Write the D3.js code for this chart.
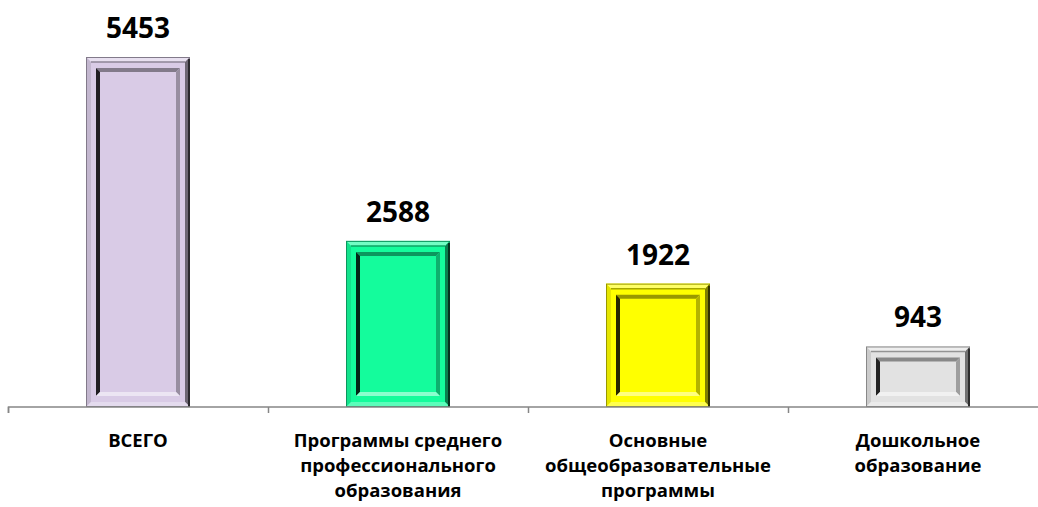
<!DOCTYPE html>
<html><head><meta charset="utf-8">
<script src="https://cdn.jsdelivr.net/npm/d3@7"></script>
<style>body{margin:0;background:#fff}svg{display:block}</style>
</head><body>
<svg id="c" width="1038" height="507"></svg>
<script>
const categories = [["ВСЕГО"], ["Программы среднего","профессионального","образования"], ["Основные","общеобразовательные","программы"], ["Дошкольное","образование"]];
const values = [5453, 2588, 1922, 943];
const colors = ["#d9cbe6", "#14fc9c", "#ffff00", "#e2e2e2"];

const svg = d3.select("#c");
const axisY = 407;
const x = d3.scaleBand().domain(d3.range(values.length)).range([8, 1048]).paddingInner(0.6).paddingOuter(0.3);
const y = d3.scaleLinear().domain([0, 5453]).range([axisY, 57]);
const band = d3.scaleBand().domain(d3.range(values.length)).range([8, 1048]);

function mix(c, t, k){ return d3.interpolateRgb(c, t)(k); }

values.forEach((v, i) => {
  const x0 = x(i), x1 = x(i) + x.bandwidth(), y0 = y(v), y1 = axisY;
  const col = colors[i];
  const g = svg.append("g");
  g.append("rect").attr("x", x0).attr("y", y0).attr("width", x1 - x0).attr("height", y1 - y0).attr("fill", col);
  const b = 5;
  const poly = (pts, fill) => g.append("polygon").attr("points", pts.map(p => p.join(",")).join(" ")).attr("fill", fill);
  // outer bevel
  poly([[x0,y0],[x1,y0],[x1-b,y0+b],[x0+b,y0+b]], mix(col, "#fff", 0.4));
  poly([[x0,y0],[x0+b,y0+b],[x0+b,y1-b],[x0,y1]], mix(col, "#000", 0.1));
  poly([[x1,y0],[x1,y1],[x1-b,y1-b],[x1-b,y0+b]], mix(col, "#000", 0.5));
  poly([[x0,y1],[x0+b,y1-b],[x1-b,y1-b],[x1,y1]], mix(col, "#fff", 0.3));
  g.append("line").attr("x1", x0+b).attr("x2", x1-b).attr("y1", y0+b).attr("y2", y0+b).attr("stroke", mix(col, "#000", 0.35)).attr("stroke-width", 1.5);
  g.append("rect").attr("x", x0+0.5).attr("y", y0+0.5).attr("width", x1-x0-1).attr("height", y1-y0-1).attr("fill", "none").attr("stroke", mix(col, "#000", 0.4)).attr("stroke-width", 1);
  g.append("line").attr("x1", x1-1).attr("x2", x1-1).attr("y1", y0+2).attr("y2", y1).attr("stroke", mix(col, "#000", 0.8)).attr("stroke-width", 2);
  // inner panel
  const ix0 = x0 + 10, ix1 = x1 - 10, iy0 = y0 + 11, iy1 = y1 - 11, c = 4;
  if (iy1 > iy0 + 2*c) {
    poly([[ix0,iy0],[ix1,iy0],[ix1-c,iy0+c],[ix0+c,iy0+c]], mix(col, "#000", 0.4));
    poly([[ix0,iy0],[ix0+c,iy0+c],[ix0+c,iy1-c],[ix0,iy1]], mix(col, "#000", 0.85));
    poly([[ix1,iy0],[ix1,iy1],[ix1-c,iy1-c],[ix1-c,iy0+c]], mix(col, "#000", 0.3));
    poly([[ix0,iy1],[ix0+c,iy1-c],[ix1-c,iy1-c],[ix1,iy1]], mix(col, "#fff", 0.5));
  }
  svg.append("text").attr("x", (x0 + x1) / 2).attr("y", y0 - 19).attr("text-anchor", "middle")
    .attr("font-family", "'Open Sans', sans-serif").attr("font-weight", "bold").attr("font-size", 28).attr("fill", "#000").text(v);
});

// axis
const axis = d3.axisBottom(band).tickSize(6).tickSizeOuter(6).tickFormat("");
const ag = svg.append("g").attr("transform", `translate(0,${axisY})`).call(axis);
ag.selectAll("path,line").attr("stroke", "#868686").attr("stroke-width", 1.5);
ag.select(".domain").attr("d", `M8.5,6V0H1048.5V6`);
ag.selectAll(".tick").remove();
band.domain().forEach(i => {
  const tx = Math.round(band(i)) + 0.5;
  ag.append("line").attr("x1", tx).attr("x2", tx).attr("y1", 0).attr("y2", 6).attr("stroke", "#868686").attr("stroke-width", 1.5);
});

categories.forEach((lines, i) => {
  const t = svg.append("text").attr("text-anchor", "middle").attr("font-family", "'Open Sans', sans-serif")
    .attr("font-weight", "bold").attr("font-size", 18.5).attr("fill", "#000");
  lines.forEach((l, k) => t.append("tspan").attr("x", band(i) + band.bandwidth()/2).attr("y", 447 + k * 25).text(l));
});
</script>
</body></html>
